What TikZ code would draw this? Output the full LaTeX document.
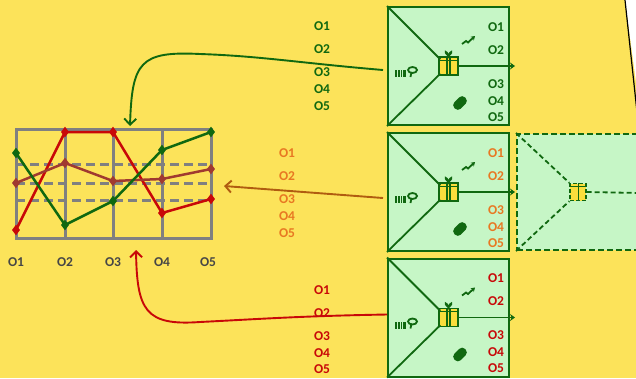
\documentclass[tikz,border=0pt]{standalone}
\usepackage{fontspec}
\setmainfont{Carlito}
\usepackage{tikz}
\usetikzlibrary{positioning,arrows.meta,plotmarks}

\definecolor{paper}{RGB}{252,227,90}
\definecolor{leaf}{RGB}{198,246,198}
\definecolor{pine}{RGB}{16,104,16}
\definecolor{amber}{RGB}{232,120,34}
\definecolor{crimson}{RGB}{200,8,8}
\definecolor{rust}{RGB}{176,92,16}
\definecolor{plum}{RGB}{160,58,48}
\definecolor{ash}{RGB}{128,128,128}
\definecolor{slate}{RGB}{70,70,70}
\definecolor{giftyellow}{RGB}{250,222,60}

\begin{document}
\begin{tikzpicture}[x=1pt,y=-1pt,node distance=126pt,on grid,
    font=\fontsize{13.5}{16}\bfseries\selectfont]
  \tikzstyle{card}=[rectangle,draw=pine,line width=2pt,fill=leaf,
                    minimum width=121pt,minimum height=118pt,inner sep=0pt]
  \tikzstyle{gift}=[rectangle,draw=pine,line width=1.4pt,fill=giftyellow,
                    minimum width=19pt,minimum height=18pt,inner sep=0pt]
  \tikzstyle{spoke}=[pine,line width=1.8pt]
  \tikzstyle{link}=[line width=1.9pt,-{Straight Barb[length=6pt,width=12pt]}]
  \tikzstyle{series}=[line width=2.5pt,mark=diamond*,mark size=3.2pt,mark options={solid}]

  % background and the page edge
  \clip (0,0) rectangle (636,378);
  \fill[paper] (0,0) rectangle (636,378);
  \fill[white] (625,0) -- (640,0) -- (640,112) -- cycle;
  \draw[black,line width=1.2pt] (625,0) -- (637,112);

  % the three cards and the next one
  \node[card] (b1) at (448.5,66) {};
  \node[card] (b2) [below=126pt of b1] {};
  \node[card] (b3) [below=125.5pt of b2] {};
  \node[card,dashed,dash pattern=on 6pt off 3pt,minimum width=160pt,minimum height=116pt]
       (b4) [right=148.5pt of b2] {};

  \node[gift] (g1) at (b1.center) {};
  \node[gift] (g2) at (b2.center) {};
  \node[gift] (g3) at (b3.center) {};
  \node[gift,dashed,dash pattern=on 4pt off 2pt,minimum width=16pt,minimum height=17pt]
       (g4) at (578,192) {};

  \foreach \b/\g/\c in {b1/g1/pine,b2/g2/amber,b3/g3/crimson} {
    \draw[spoke] (\b.north west) -- ([shift={(2,3)}]\g.north west);
    \draw[spoke] (\b.south west) -- ([shift={(2,-2)}]\g.south west);
    \draw[spoke,-{Stealth[length=5pt,width=7pt]}] (\g.east) -- ([xshift=5pt]\b.east);
    % ribbon and bow
    \draw[pine,line width=1.1pt] ([xshift=-1.5pt]\g.north) -- ([xshift=-1.5pt]\g.south)
                                 ([xshift=1.5pt]\g.north) -- ([xshift=1.5pt]\g.south);
    \draw[pine,line width=1.1pt] ([yshift=-4pt]\g.north west) -- ([yshift=-4pt]\g.north east);
    \draw[pine,line width=1.2pt] (\g.north) .. controls +(-7,-6) and +(-1,-7) .. (\g.north)
                                 .. controls +(1,-7) and +(7,-6) .. (\g.north);
    % icons
    \draw[pine,line width=1.8pt,-{Stealth[length=4pt,width=5pt]}]
      ([shift={(13.5,-22)}]\b.center) -- ++(4,-3) -- ++(2,1.5) -- ++(7,-6.5);
    \fill[pine] ([shift={(-54,4)}]\b.center) rectangle ++(11,7);
    \draw[leaf,line width=0.5pt] ([shift={(-51,4)}]\b.center) -- ++(0,7)
                                 ([shift={(-48.5,4)}]\b.center) -- ++(0,7)
                                 ([shift={(-46,4)}]\b.center) -- ++(0,7);
    \draw[pine,line width=1.8pt] ([shift={(-36,4)}]\b.center) ellipse (4.5pt and 3pt);
    \draw[pine,line width=1.8pt] ([shift={(-37,6)}]\b.center) -- ++(-1,5);
    \node[fill=pine,rounded corners=4pt,minimum width=15pt,minimum height=9pt,
          inner sep=0pt,rotate=45] at ([shift={(11.5,37)}]\b.center) {};
    % outputs
    \foreach \t/\dy in {O1/-39,O2/-16,O3/18,O4/35,O5/51}
      \node[text=\c] at ([shift={(47.5,\dy)}]\b.center) {\t};
  }

  \draw[spoke,dashed,dash pattern=on 5pt off 3pt] (b4.north west) -- (g4.north west);
  \draw[spoke,dashed,dash pattern=on 5pt off 3pt] (b4.south west) -- (g4.south west);
  \draw[spoke,dashed,dash pattern=on 5pt off 3pt] (g4.east) -- (640,193);
  \draw[pine,line width=1pt] (g4.north) -- (g4.south);
  \draw[pine,line width=1pt] ([yshift=-4pt]g4.north west) -- ([yshift=-4pt]g4.north east);

  % chart
  \node[rectangle,draw=ash,line width=3pt,minimum width=195pt,minimum height=109pt,
        inner sep=0pt] (chart) at (113.5,183.5) {};
  \draw[ash,line width=3pt] (65,129) -- (65,238) (113,129) -- (113,238) (162,129) -- (162,238);
  \draw[ash,line width=3pt,dash pattern=on 9pt off 5pt]
    (16,164) -- (211,164) (16,183) -- (211,183) (16,200) -- (211,200);
  \draw[series,crimson] plot coordinates {(16,230) (65,132) (113,132) (162,213) (211,199)};
  \draw[series,plum] plot coordinates {(16,183) (65,163) (113,181) (162,179) (211,169)};
  \draw[series,pine] plot coordinates {(16,153) (65,225) (113,201) (162,150) (211,132)};
  \foreach \x/\t in {16/O1,65/O2,113/O3,162/O4,208/O5}
    \node[text=slate] at (\x,262) {\t};

  % links back to the chart
  \coordinate (gin) at (130,126);
  \coordinate (oin) at (224,186);
  \coordinate (rin) at (136,250);
  \draw[link,pine] ([shift={(-4,4)}]b1.west) .. controls (300,63) and (260,56) .. (200,54)
                   .. controls (140,51) and (132,62) .. (gin);
  \draw[link,rust] ([shift={(-4,6)}]b2.west) -- (oin);
  \draw[link,crimson] ([yshift=3pt]b3.west) .. controls (300,316) and (260,319) .. (200,322)
                      .. controls (145,326) and (137,310) .. (rin);

  \foreach \t/\y in {O1/26,O2/49,O3/72,O4/89,O5/106}
    \node[text=pine] at (322,\y) {\t};
  \foreach \t/\y in {O1/153,O2/176,O3/199,O4/216,O5/233}
    \node[text=amber] at (287,\y) {\t};
  \foreach \t/\y in {O1/290,O2/313,O3/336,O4/353,O5/369}
    \node[text=crimson] at (322,\y) {\t};
\end{tikzpicture}
\end{document}
